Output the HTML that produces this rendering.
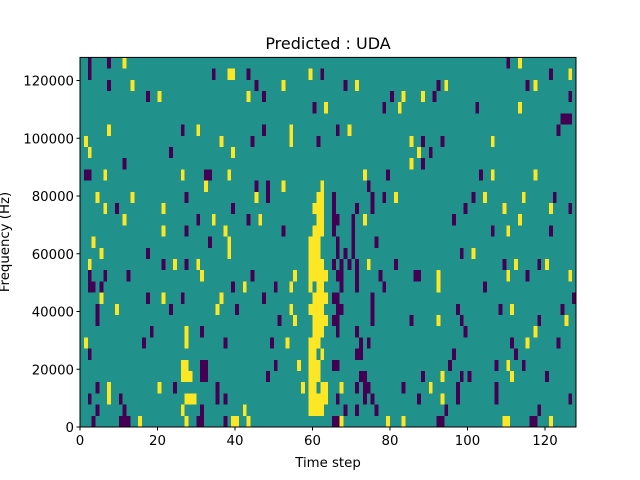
<!DOCTYPE html>
<html><head><meta charset="utf-8"><style>
html,body{margin:0;padding:0;background:#fff;width:640px;height:480px;overflow:hidden}
svg{display:block;font-family:"DejaVu Sans","Liberation Sans",sans-serif}
</style></head><body>
<svg id="chart" width="640" height="480" viewBox="0 0 640 480" xmlns="http://www.w3.org/2000/svg">
<text x="328" y="49" font-size="16" text-anchor="middle">Predicted : UDA</text>
<text x="328" y="467" font-size="13.3" text-anchor="middle">Time step</text>
<text transform="translate(9,242) rotate(-90)" font-size="13.3" text-anchor="middle">Frequency (Hz)</text>
<g id="cells"></g>
<g id="axes"></g>
</svg>
<script>
const nCols = 128;
const nRows = 33;
const freqMax = 128000;
const xTicks = [0, 20, 40, 60, 80, 100, 120];
const yTicks = [0, 20000, 40000, 60000, 80000, 100000, 120000];
const purpleRows = [
"3 10-12 30-31 37 65-66 92-93 116-117",
"4 11 31 68 71 76 94 118",
"2 10 35 37 66 73 75 87 97 107 126",
"4 24 35 71 73-74 83 97 107",
"31-32 48 72-73 88 98 100 120",
"31-32 50 65-66 95 107 114",
"2 71-72 96 112",
"16 37 49 72 74 111 123",
"18 31 66 71 99",
"4 51 65-66 75 85 98 118",
"4 23 40 66-67 75 97 108 124",
"17 26 47 65-66 75 127",
"2-3 5 39 50 67 71 78 104",
"2 6 12 44 66-67 71 77 86-87 115",
"21 27 65 67 69 71 81 109 118",
"17 66 68 70 98",
"33 66 70 76",
"27 52 65 70 106 121",
"30 43 65-66 70 96",
"9 39 65 71 75 99 126",
"27 48 65 75 78 101 122",
"45 48 74",
"1-2 32-33 79 103",
"11 88",
"23 90",
"44 61 88 93",
"26 47 66 123",
"124-126",
"60 78 102",
"17 47 80 91 126",
"7 45 68 92 115",
"2 34 43 62 121",
"2 7 110"
];
const yellowRows = [
"15 27 39-40 43 67 79 83 109-110 121",
"26 42 59-62",
"7 27-29 59-63 93",
"7 20 57 59-60 62-63 67 90",
"26-28 59-61 93 111",
"26-27 56 59-61 110",
"59-60 62",
"1 27 53 59-61 115",
"27 60-62 117",
"55 60-63 92 125",
"9 35 54 59-62 111",
"5 21 36 60-63",
"42 54 59 61-62 92",
"31 55 59-63 92 110 126",
"2 24 30 59-62 74 112 120",
"5 38 59-61 101",
"3 38 59-61",
"21 37 60-62 110",
"11 34 46 61-62 73 113",
"6 21 60-62 109 121",
"4 13 45 61-62 81 104 114",
"32 52 62",
"6 26 38 73 106 117",
"85",
"2 39 87",
"1 36 54 85 106",
"7 30 54 69",
"",
"63 82 113",
"20 43 83 88",
"13 52 71 94 117",
"38-39 59 126",
"11 113"
];
const L=80,R=576,T=57.4,B=427;
function xs(v){return L+(R-L)*v/nCols;}
function ys(v){return B-(B-T)*v/freqMax;}
const NS="http://www.w3.org/2000/svg";
const cells=document.getElementById('cells');
const axes=document.getElementById('axes');
function mk(tag,attrs,parent){const e=document.createElementNS(NS,tag);for(const k in attrs)e.setAttribute(k,attrs[k]);parent.appendChild(e);return e;}
const bg=mk('rect',{x:L,y:T,width:R-L,height:B-T,fill:'#21918c'},cells);


const binH=freqMax/nRows;
function drawRows(rows,color,name){
  rows.forEach((s,k)=>{
    s.split(' ').filter(t=>t).forEach(t=>{
      const p=t.split('-').map(Number);const a=p[0],b=p.length>1?p[1]:p[0];
      const r=mk('rect',{x:xs(a),y:ys((k+1)*binH),width:xs(b+1)-xs(a),height:ys(k*binH)-ys((k+1)*binH),fill:color,'shape-rendering':'crispEdges'},cells);
      
      
    });
  });
}
drawRows(purpleRows,'#440154','cell-purple');
drawRows(yellowRows,'#fde725','cell-yellow');
const frame=mk('rect',{x:L,y:T,width:R-L,height:B-T,fill:'none',stroke:'#000','stroke-width':1},axes);


xTicks.forEach(v=>{
  const x=xs(v);
  const t=mk('line',{x1:x,x2:x,y1:B,y2:B+3.5,stroke:'#000'},axes);
  
  
  const l=mk('text',{x:x,y:B+18,'font-size':'13.3','text-anchor':'middle'},axes);
  l.textContent=v;
  
  
});
yTicks.forEach(v=>{
  const y=ys(v);
  const t=mk('line',{x1:L-3.5,x2:L,y1:y,y2:y,stroke:'#000'},axes);
  
  
  const l=mk('text',{x:L-6,y:y+5,'font-size':'13.3','text-anchor':'end'},axes);
  l.textContent=v;
  
  
});
</script>
</body></html>
